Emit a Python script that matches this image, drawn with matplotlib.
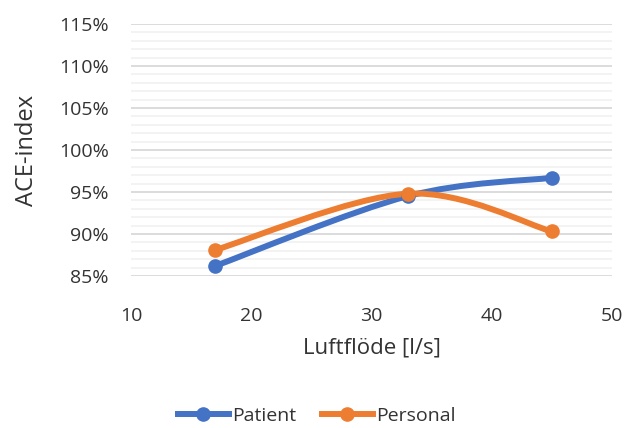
import numpy as np
import matplotlib.pyplot as plt
from matplotlib.path import Path
from matplotlib.patches import PathPatch
from matplotlib.lines import Line2D
from matplotlib.ticker import MultipleLocator, PercentFormatter

# data
flow = [17, 33, 45]
patient = [86.2, 94.5, 96.7]
personal = [88.1, 94.8, 90.3]

series_names = ["Patient", "Personal"]
colors = ["#4472C4", "#ED7D31"]

plt.rcParams['font.family'] = ['Open Sans', 'DejaVu Sans']
txt = '#333333'


def smooth_path(xs, ys):
    # Excel-like smoothed line: cubic bezier with catmull-rom style control points
    pts = np.column_stack([xs, ys]).astype(float)
    n = len(pts)
    verts = [pts[0]]
    codes = [Path.MOVETO]
    for i in range(n - 1):
        p0 = pts[i - 1] if i > 0 else pts[i]
        p1 = pts[i]
        p2 = pts[i + 1]
        p3 = pts[i + 2] if i + 2 < n else pts[i + 1]
        c1 = p1 + (p2 - p0) / 6.0
        c2 = p2 - (p3 - p1) / 6.0
        verts += [c1, c2, p2]
        codes += [Path.CURVE4] * 3
    return Path(verts, codes)


fig = plt.figure(figsize=(6.29, 4.28), dpi=100)
ax = fig.add_axes([131 / 629, 1 - 276 / 428, (612 - 131) / 629, (276 - 24) / 428])

for name, ys, c in zip(series_names, [patient, personal], colors):
    ax.add_patch(PathPatch(smooth_path(flow, ys), facecolor='none', edgecolor=c,
                           lw=4.3, capstyle='round', joinstyle='round', zorder=3))
    ax.plot(flow, ys, 'o', color=c, markersize=9.5, zorder=4)

ax.set_xlim(10, 50)
ax.set_ylim(85, 115)
ax.xaxis.set_major_locator(MultipleLocator(10))
ax.yaxis.set_major_locator(MultipleLocator(5))
ax.yaxis.set_minor_locator(MultipleLocator(1))
ax.yaxis.set_major_formatter(PercentFormatter(decimals=0))

ax.grid(axis='y', which='major', color='#D9D9D9', lw=1.3, zorder=0)
ax.grid(axis='y', which='minor', color='#F2F2F2', lw=1.3, zorder=0)
for s in ax.spines.values():
    s.set_visible(False)
ax.tick_params(which='both', length=0, labelsize=14, colors=txt)
ax.tick_params(axis='y', pad=16)
ax.tick_params(axis='x', pad=22)

ax.set_xlabel("Luftflöde [l/s]", fontsize=16, color=txt, labelpad=9)
ax.set_ylabel("ACE-index", fontsize=17, color=txt, labelpad=14)

handles = [Line2D([0], [0], color=c, lw=4.3, marker='o', markersize=9.5) for c in colors]
fig.legend(handles, series_names, loc='center', bbox_to_anchor=(317 / 629, 1 - 416 / 428),
           ncol=2, frameon=False, fontsize=14, handlelength=2.6, columnspacing=1.3,
           handletextpad=0.2, labelcolor=txt)

fig.savefig("out.png", dpi=100)
